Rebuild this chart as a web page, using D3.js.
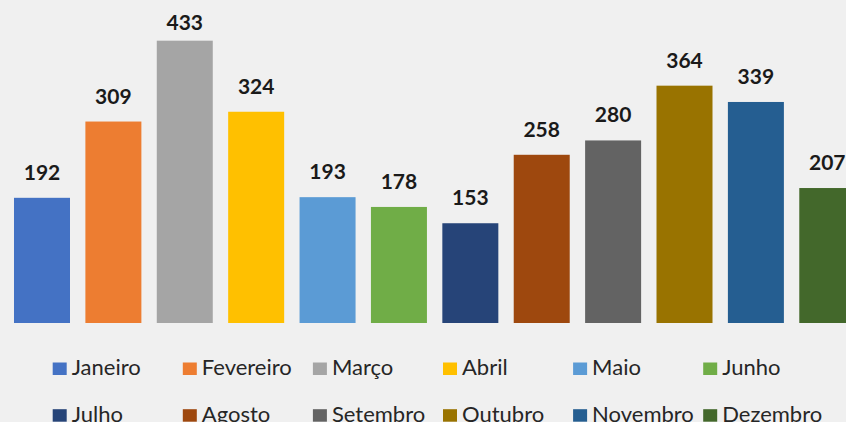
<!DOCTYPE html>
<html>
<head>
<meta charset="utf-8">
<script src="https://cdn.jsdelivr.net/npm/d3@7"></script>
<style>
  html, body { margin: 0; padding: 0; background: #f0f0f0; }
  svg { display: block; }
</style>
</head>
<body>
<svg id="chart" width="846" height="422"></svg>
<script>
// Monthly totals
const months = ["Janeiro", "Fevereiro", "Março", "Abril", "Maio", "Junho",
                "Julho", "Agosto", "Setembro", "Outubro", "Novembro", "Dezembro"];
const values = [192, 309, 433, 324, 193, 178, 153, 258, 280, 364, 339, 207];
const colors = ["#4472C4", "#ED7D31", "#A5A5A5", "#FFC000", "#5B9BD5", "#70AD47",
                "#264478", "#9E480E", "#636363", "#997300", "#255E91", "#43682B"];

const W = 846, H = 422;
const svg = d3.select("#chart");
const font = "Lato, 'Open Sans', sans-serif";

svg.append("rect").attr("width", W).attr("height", H).attr("fill", "#f0f0f0");

const x = d3.scaleBand()
  .domain(months)
  .range([6.3, 6.3 + 12 * 71.39])
  .paddingInner(0.2156)
  .paddingOuter(0.1078);

const y = d3.scaleLinear().domain([0, 450]).range([323, 29.6]);

const color = d3.scaleOrdinal().domain(months).range(colors);

const data = months.map((m, i) => ({ month: m, value: values[i] }));

// Bars
svg.append("g").selectAll("rect")
  .data(data)
  .join("rect")
  .attr("x", d => x(d.month))
  .attr("y", d => y(d.value))
  .attr("width", x.bandwidth())
  .attr("height", d => y(0) - y(d.value))
  .attr("fill", d => color(d.month));

// Value labels (kept inside the top of the plot area)
svg.append("g").selectAll("text")
  .data(data)
  .join("text")
  .attr("x", d => x(d.month) + x.bandwidth() / 2)
  .attr("y", d => Math.max(y(d.value) - 18, 29.5))
  .attr("text-anchor", "middle")
  .attr("font-family", font)
  .attr("font-weight", "bold")
  .attr("font-size", 21)
  .attr("fill", "#1a1a1a")
  .text(d => d.value);

// Legend: two rows of six
const legend = svg.append("g");
const colStep = 130.1, col0 = 52.7, row0 = 375, rowStep = 46.7;
const items = legend.selectAll("g")
  .data(data)
  .join("g")
  .attr("transform", (d, i) => `translate(${col0 + (i % 6) * colStep},${row0 + Math.floor(i / 6) * rowStep})`);

items.append("rect")
  .attr("x", 0).attr("y", -12.5)
  .attr("width", 14).attr("height", 12.5)
  .attr("fill", d => color(d.month));

items.append("text")
  .attr("x", 19).attr("y", 0)
  .attr("font-family", font)
  .attr("font-size", 22)
  .attr("fill", "#262626")
  .text(d => d.month);
</script>
</body>
</html>
